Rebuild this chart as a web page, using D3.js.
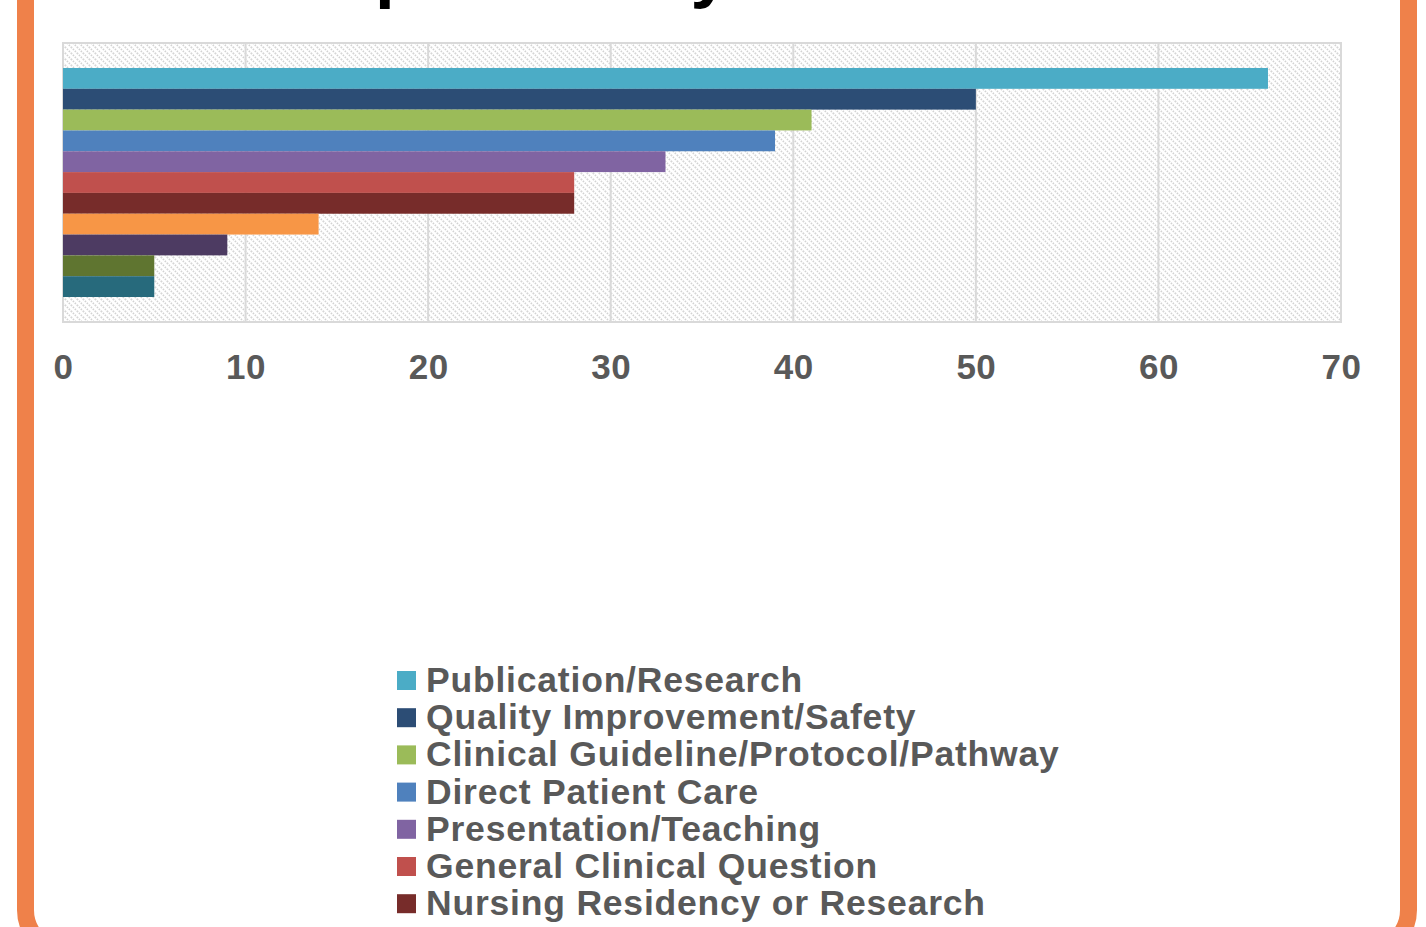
<!DOCTYPE html>
<html><head><meta charset="utf-8">
<script src="https://cdn.jsdelivr.net/npm/d3@7"></script>
<style>html,body{margin:0;padding:0;background:#fff;overflow:hidden}</style>
</head><body>
<svg id="chart" width="1426" height="927"></svg>
<script>
const categories = [
  "Publication/Research",
  "Quality Improvement/Safety",
  "Clinical Guideline/Protocol/Pathway",
  "Direct Patient Care",
  "Presentation/Teaching",
  "General Clinical Question",
  "Nursing Residency or Research",
  "Patient Education",
  "Grant/Funding",
  "Administrative",
  "Other"
];
const values = [66, 50, 41, 39, 33, 28, 28, 14, 9, 5, 5];
const colors = ["#4BACC6","#2C4D75","#9BBB59","#4F81BD","#8064A2","#C0504D","#772C2A","#F79646","#4D3B62","#5F7530","#276A7C"];
const tickValues = [0, 10, 20, 30, 40, 50, 60, 70];
const titleText = "Topic Use by Area";

const W = 1426, H = 927;
const svg = d3.select("#chart");
const font = "'Liberation Sans', Arial, sans-serif";

// orange frame
svg.append("rect").attr("x", 25.5).attr("y", -100).attr("width", 1383).attr("height", 1051)
  .attr("rx", 41).attr("fill", "none").attr("stroke", "#EF814A").attr("stroke-width", 17);

// title (mostly above the visible area)
svg.append("text").attr("x", 293.5).attr("y", -6).attr("font-family", font).attr("font-weight", "bold")
  .attr("font-size", 71).attr("fill", "#000").text(titleText);

const plot = {left: 63, right: 1341, top: 43, bottom: 322};
const x = d3.scaleLinear().domain([0, 70]).range([plot.left, plot.right]);
const y = d3.scaleBand().domain(categories).range([plot.top, plot.bottom]).paddingInner(0).paddingOuter(1.2);

// hatch pattern
const defs = svg.append("defs");
const pat = defs.append("pattern").attr("id", "hatch").attr("patternUnits", "userSpaceOnUse")
  .attr("width", 6).attr("height", 6);
pat.append("rect").attr("width", 6).attr("height", 6).attr("fill", "#fff");
pat.append("path").attr("d", "M-1,-1 L7,7 M-1,5 L1,7 M5,-1 L7,1")
  .attr("stroke", "#d2d2d2").attr("stroke-width", 1.6).attr("stroke-dasharray", "1.5,1.2");

svg.append("rect").attr("x", plot.left).attr("y", plot.top).attr("width", plot.right - plot.left)
  .attr("height", plot.bottom - plot.top).attr("fill", "url(#hatch)");

// gridlines
svg.append("g").selectAll("line").data(tickValues.slice(1, -1)).join("line")
  .attr("x1", d => x(d)).attr("x2", d => x(d)).attr("y1", plot.top).attr("y2", plot.bottom)
  .attr("stroke", "#d9d9d9").attr("stroke-width", 2);

// plot border
svg.append("rect").attr("x", plot.left).attr("y", plot.top).attr("width", plot.right - plot.left)
  .attr("height", plot.bottom - plot.top).attr("fill", "none").attr("stroke", "#d9d9d9").attr("stroke-width", 2);

// bars
svg.append("g").selectAll("rect").data(categories).join("rect")
  .attr("x", x(0)).attr("y", d => y(d)).attr("height", y.bandwidth())
  .attr("width", (d, i) => x(values[i]) - x(0)).attr("fill", (d, i) => colors[i]);

// x axis
const axis = d3.axisBottom(x).tickValues(tickValues).tickSize(0).tickPadding(0).tickFormat(d3.format("d"));
const ag = svg.append("g").attr("transform", `translate(0,${379})`).call(axis);
ag.select(".domain").remove();
ag.selectAll("text").attr("dy", 0).attr("y", 0).attr("font-family", font).attr("font-weight", "bold")
  .attr("font-size", 35).attr("letter-spacing", "0.5px").attr("fill", "#595959");

// legend (only the rows that fall inside the visible frame are drawn)
const legendTop = 692, legendStep = 37.2;
const legendRows = categories.map((c, i) => ({name: c, color: colors[i], yPos: legendTop + i * legendStep}))
  .filter(r => r.yPos < H);
const lg = svg.append("g").selectAll("g").data(legendRows).join("g")
  .attr("transform", d => `translate(397,${d.yPos})`);
lg.append("rect").attr("x", 0).attr("y", -21).attr("width", 19).attr("height", 19).attr("fill", d => d.color);
lg.append("text").attr("x", 29).attr("y", 0).attr("font-family", font).attr("font-weight", "bold")
  .attr("font-size", 35.5).attr("letter-spacing", "0.8px").attr("fill", "#595959").text(d => d.name);
</script>
</body></html>
